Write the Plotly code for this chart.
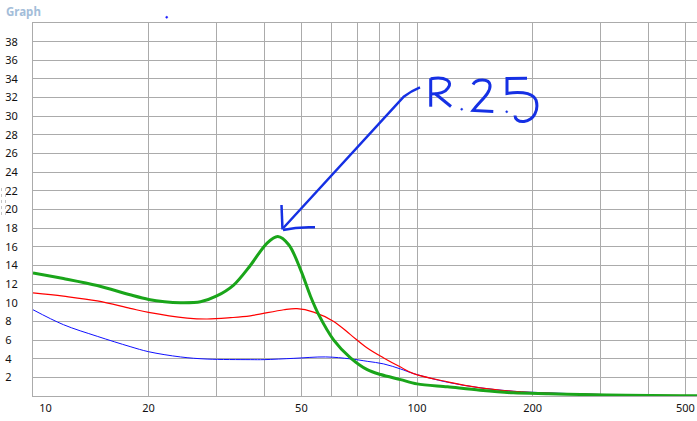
import plotly.graph_objects as go

# ---------------- data ----------------
green_x = [10, 12, 14.7, 17.9, 20, 22, 24.2, 27.3, 30, 33.3, 36.8, 40.7, 43.4, 46.4, 49.8,
           52.8, 55.5, 60.7, 67.1, 74.2, 80.4, 90.6, 100, 120, 146, 178, 220, 267, 350, 485, 540]
green_y = [13.2, 12.6, 11.85, 10.85, 10.35, 10.1, 10.0, 10.1, 10.7, 11.9, 14.0, 16.4, 17.1, 16.2, 13.5,
           10.7, 8.7, 6.0, 4.1, 2.83, 2.3, 1.76, 1.3, 0.98, 0.62, 0.34, 0.24, 0.16, 0.08, 0.03, 0.02]

red_x = [10, 12, 14.7, 17.9, 20, 25.2, 28.4, 32.7, 36.8, 45, 48.7, 53.8, 60.7, 67.1, 74.2,
         81.9, 90.6, 98, 120, 146, 178, 218, 280, 350, 540]
red_y = [11.05, 10.7, 10.2, 9.4, 8.96, 8.36, 8.26, 8.4, 8.6, 9.25, 9.36, 9.0, 8.0, 6.58, 5.15,
         4.08, 3.1, 2.4, 1.52, 0.88, 0.51, 0.3, 0.19, 0.1, 0.03]

blue_x = [10, 12, 14.7, 17.9, 20, 24.2, 28.4, 36.8, 40, 47.8, 57.8, 67.1, 74.2, 81.9, 90.6,
          98, 120, 146, 178, 218, 280, 350, 540]
blue_y = [9.25, 7.65, 6.4, 5.3, 4.75, 4.19, 3.96, 3.9, 3.9, 4.04, 4.19, 3.98, 3.72, 3.44, 2.9,
          2.4, 1.48, 0.88, 0.51, 0.34, 0.2, 0.1, 0.03]

x_tick_vals = [10, 20, 50, 100, 200, 500]
x_tick_text = ["\u2007\u2007\u2007\u200710", "20", "50", "100", "200", "500"]
x_minor_vals = [30, 40, 60, 70, 80, 90, 300, 400]
y_tick_vals = list(range(2, 40, 2))
y_tick_text = [(str(v) if v >= 10 else str(v) + "\u2007") for v in y_tick_vals]

# ---------------- figure ----------------
W, H = 697, 421
L, R, T, B = 33, 0, 23, 25
PW, PH = W - L - R, H - T - B

fig = go.Figure()
fig.add_trace(go.Scatter(x=blue_x, y=blue_y, mode="lines",
                         line=dict(color="#1010ff", width=1, shape="spline", smoothing=1.0)))
fig.add_trace(go.Scatter(x=red_x, y=red_y, mode="lines",
                         line=dict(color="#ff0000", width=1.2, shape="spline", smoothing=1.0)))
fig.add_trace(go.Scatter(x=green_x, y=green_y, mode="lines",
                         line=dict(color="#1aa51a", width=3, shape="spline", smoothing=0.9)))


def P(px, py):
    return "%.5f,%.5f" % ((px - L) / PW, (H - B - py) / PH)


def path(cmds):
    out = []
    for c in cmds:
        letter, pts = c[0], c[1:]
        out.append(letter + " " + " ".join(P(*p) for p in pts))
    return " ".join(out)


ink = "#1530e4"
hand = [
    # arrow
    ([("M", (420, 87.3)), ("Q", (411, 91), (404, 96.5)), ("L", (283.3, 228))], 2.5),
    ([("M", (281.5, 205)), ("L", (282.5, 229.5))], 2.5),
    ([("M", (283, 230)), ("Q", (298, 226.5), (315, 227.3))], 2.5),
    # R
    ([("M", (430.7, 78.3)), ("L", (430.7, 106.7))], 3),
    ([("M", (430.7, 78.8)), ("C", (446, 76), (453, 82), (448, 88)), ("C", (445, 93), (436, 94), (431, 94))], 3),
    ([("M", (435, 93.5)), ("L", (451, 106.5))], 3),
    # 2
    ([("M", (473, 84.5)), ("C", (476, 79), (489, 78), (490, 85)), ("C", (491, 93), (480, 101), (473, 110.5)),
      ("L", (493.3, 111.5))], 3),
    # 5
    ([("M", (527, 78.3)), ("L", (507, 78.5)), ("L", (507, 93.5)), ("C", (515, 92), (532, 91), (536, 100)),
      ("C", (539, 110), (534, 120), (524, 121.5)), ("C", (518, 122), (515, 119), (515, 115.5))], 3),
]
shapes = []
for cmds, w in hand:
    shapes.append(dict(type="path", xref="paper", yref="paper", path=path(cmds),
                       line=dict(color=ink, width=w)))
for cx, cy, r, col in [(461.7, 109.3, 1.0, ink), (506.7, 111.7, 1.0, ink), (166.7, 17.3, 1.0, "#1a1aff")]:
    x0, y0 = (cx - r - L) / PW, (H - B - (cy + r)) / PH
    x1, y1 = (cx + r - L) / PW, (H - B - (cy - r)) / PH
    shapes.append(dict(type="circle", xref="paper", yref="paper", x0=x0, y0=y0, x1=x1, y1=y1,
                       fillcolor=col, line=dict(color=col, width=0.5)))
# faint dotted selection marks at the left edge
for dx in (1.5, 5.5):
    shapes.append(dict(type="path", xref="paper", yref="paper",
                       path=path([("M", (dx, 188)), ("L", (dx, 215))]),
                       line=dict(color="#c4c4c4", width=1, dash="dot")))

grid = "#ababab"
fig.update_layout(
    width=W, height=H,
    margin=dict(l=L, r=R, t=T, b=B, pad=0, autoexpand=False),
    paper_bgcolor="white", plot_bgcolor="white",
    showlegend=False,
    font=dict(family="Noto Sans", size=11, color="#111111"),
    title=dict(text="Graph", x=6 / W, xref="container", xanchor="left",
               y=1 - 8 / H, yref="container", yanchor="top",
               font=dict(family="Noto Sans", size=11.5, color="#a3bdd9", weight="bold")),
    xaxis=dict(type="log", range=[1, 1 + PW / 384.0], tickvals=x_tick_vals, ticktext=x_tick_text,
               showgrid=True, gridcolor=grid, gridwidth=1, zeroline=False,
               showline=True, linecolor=grid, linewidth=1, mirror=True,
               ticks="", ticklabelstandoff=2, automargin=False,
               minor=dict(tickvals=x_minor_vals, showgrid=True, gridcolor=grid, gridwidth=1, ticks="")),
    yaxis=dict(range=[0, 40], tickvals=y_tick_vals, ticktext=y_tick_text,
               showgrid=True, gridcolor=grid, gridwidth=1, zeroline=False, automargin=False,
               showline=True, linecolor=grid, linewidth=1, ticks="", ticklabelstandoff=12),
    shapes=shapes,
)

fig.write_html("out.html", config={"displayModeBar": False},
               post_script="document.body.style.margin='0';document.body.style.overflow='hidden';")
